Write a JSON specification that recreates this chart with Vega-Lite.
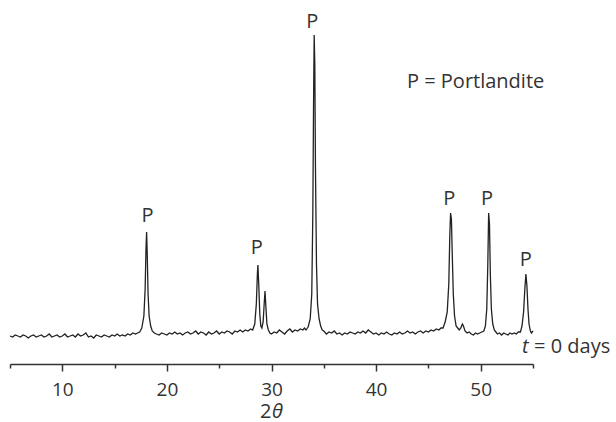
{
  "$schema": "https://vega.github.io/schema/vega-lite/v6.json",
  "width": 523,
  "height": 344,
  "autosize": "none",
  "padding": {"left": 10, "top": 20, "right": 83, "bottom": 58},
  "background": "white",
  "config": {"view": {"stroke": null}, "text": {"font": "Open Sans", "fontSize": 20, "color": "#333333"}},
  "resolve": {"scale": {"x": "independent"}, "axis": {"x": "independent"}},
  "encoding": {
    "y": {"field": "y", "type": "quantitative", "scale": {"domain": [0, 344], "nice": false, "zero": false}, "axis": null}
  },
  "layer": [
    {
      "data": {"values": [
        {"x":5.0,"y":28},{"x":5.25,"y":27},{"x":5.5,"y":29},{"x":5.75,"y":28},{"x":6.0,"y":27},{"x":6.25,"y":29},{"x":6.5,"y":28},{"x":6.75,"y":26},{"x":7.0,"y":28},{"x":7.25,"y":29},{"x":7.5,"y":27},{"x":7.75,"y":28},{"x":8.0,"y":29},{"x":8.25,"y":27},{"x":8.5,"y":28},{"x":8.75,"y":30},{"x":9.0,"y":27},{"x":9.25,"y":28},{"x":9.5,"y":29},{"x":9.75,"y":27},{"x":10.0,"y":28},{"x":10.25,"y":30},{"x":10.5,"y":27},{"x":10.75,"y":28},{"x":11.0,"y":29},{"x":11.25,"y":27},{"x":11.5,"y":30},{"x":11.75,"y":28},{"x":12.0,"y":29},{"x":12.25,"y":31},{"x":12.5,"y":27},{"x":12.75,"y":28},{"x":13.0,"y":26},{"x":13.25,"y":29},{"x":13.5,"y":28},{"x":13.75,"y":27},{"x":14.0,"y":29},{"x":14.25,"y":28},{"x":14.5,"y":27},{"x":14.75,"y":29},{"x":15.0,"y":28},{"x":15.25,"y":30},{"x":15.5,"y":28},{"x":15.75,"y":29},{"x":16.0,"y":28},{"x":16.25,"y":30},{"x":16.5,"y":29},{"x":16.75,"y":31},{"x":17.0,"y":30},{"x":17.2,"y":31},
        {"x":17.4,"y":32},{"x":17.6,"y":36},{"x":17.8,"y":48},{"x":17.92,"y":75},{"x":18.0,"y":115},{"x":18.06,"y":132},{"x":18.12,"y":110},{"x":18.2,"y":70},{"x":18.3,"y":48},{"x":18.45,"y":38},{"x":18.6,"y":33},{"x":18.8,"y":31},
        {"x":19.0,"y":30},{"x":19.25,"y":29},{"x":19.5,"y":31},{"x":19.75,"y":30},{"x":20.0,"y":29},{"x":20.25,"y":31},{"x":20.5,"y":30},{"x":20.75,"y":32},{"x":21.0,"y":30},{"x":21.25,"y":31},{"x":21.5,"y":29},{"x":21.75,"y":31},{"x":22.0,"y":32},{"x":22.25,"y":30},{"x":22.5,"y":31},{"x":22.75,"y":33},{"x":23.0,"y":30},{"x":23.25,"y":32},{"x":23.5,"y":31},{"x":23.75,"y":29},{"x":24.0,"y":32},{"x":24.25,"y":30},{"x":24.5,"y":31},{"x":24.75,"y":33},{"x":25.0,"y":30},{"x":25.25,"y":32},{"x":25.5,"y":31},{"x":25.75,"y":33},{"x":26.0,"y":32},{"x":26.25,"y":30},{"x":26.5,"y":33},{"x":26.75,"y":32},{"x":27.0,"y":34},{"x":27.25,"y":32},{"x":27.5,"y":34},{"x":27.75,"y":33},{"x":28.0,"y":35},
        {"x":28.2,"y":34},{"x":28.4,"y":40},{"x":28.55,"y":60},{"x":28.65,"y":90},{"x":28.7,"y":99},{"x":28.78,"y":80},{"x":28.88,"y":50},{"x":28.98,"y":38},{"x":29.08,"y":36},{"x":29.2,"y":42},{"x":29.3,"y":60},{"x":29.38,"y":73},{"x":29.46,"y":58},{"x":29.56,"y":40},{"x":29.7,"y":34},{"x":29.85,"y":31},
        {"x":30.0,"y":30},{"x":30.25,"y":32},{"x":30.5,"y":31},{"x":30.75,"y":34},{"x":31.0,"y":32},{"x":31.25,"y":30},{"x":31.5,"y":33},{"x":31.75,"y":35},{"x":32.0,"y":32},{"x":32.25,"y":34},{"x":32.5,"y":33},{"x":32.75,"y":35},{"x":33.0,"y":34},{"x":33.15,"y":36},
        {"x":33.3,"y":34},{"x":33.5,"y":37},{"x":33.7,"y":45},{"x":33.85,"y":70},{"x":33.95,"y":150},{"x":34.02,"y":260},{"x":34.08,"y":329},{"x":34.14,"y":300},{"x":34.2,"y":200},{"x":34.3,"y":100},{"x":34.4,"y":60},{"x":34.55,"y":45},{"x":34.7,"y":38},{"x":34.85,"y":34},
        {"x":35.0,"y":33},{"x":35.25,"y":30},{"x":35.5,"y":32},{"x":35.75,"y":31},{"x":36.0,"y":33},{"x":36.25,"y":30},{"x":36.5,"y":31},{"x":36.75,"y":29},{"x":37.0,"y":31},{"x":37.25,"y":30},{"x":37.5,"y":32},{"x":37.75,"y":31},{"x":38.0,"y":30},{"x":38.25,"y":32},{"x":38.5,"y":31},{"x":38.75,"y":33},{"x":39.0,"y":31},{"x":39.25,"y":34},{"x":39.5,"y":32},{"x":39.75,"y":30},{"x":40.0,"y":31},{"x":40.25,"y":29},{"x":40.5,"y":31},{"x":40.75,"y":30},{"x":41.0,"y":32},{"x":41.25,"y":30},{"x":41.5,"y":29},{"x":41.75,"y":31},{"x":42.0,"y":30},{"x":42.25,"y":32},{"x":42.5,"y":30},{"x":42.75,"y":31},{"x":43.0,"y":33},{"x":43.25,"y":31},{"x":43.5,"y":32},{"x":43.75,"y":30},{"x":44.0,"y":32},{"x":44.25,"y":33},{"x":44.5,"y":31},{"x":44.75,"y":33},{"x":45.0,"y":32},{"x":45.25,"y":34},{"x":45.5,"y":33},{"x":45.75,"y":35},{"x":46.0,"y":34},{"x":46.2,"y":36},
        {"x":46.4,"y":36},{"x":46.6,"y":42},{"x":46.8,"y":52},{"x":46.95,"y":80},{"x":47.05,"y":130},{"x":47.12,"y":151},{"x":47.2,"y":145},{"x":47.28,"y":110},{"x":47.38,"y":70},{"x":47.5,"y":48},{"x":47.65,"y":38},{"x":47.8,"y":36},
        {"x":47.95,"y":34},{"x":48.1,"y":36},{"x":48.25,"y":40},{"x":48.35,"y":38},{"x":48.5,"y":33},{"x":48.7,"y":31},{"x":48.9,"y":32},{"x":49.1,"y":30},{"x":49.3,"y":29},{"x":49.5,"y":31},{"x":49.7,"y":30},{"x":49.9,"y":31},{"x":50.1,"y":32},
        {"x":50.3,"y":33},{"x":50.45,"y":38},{"x":50.58,"y":55},{"x":50.68,"y":100},{"x":50.76,"y":151},{"x":50.84,"y":140},{"x":50.92,"y":90},{"x":51.02,"y":55},{"x":51.15,"y":40},{"x":51.3,"y":34},
        {"x":51.45,"y":32},{"x":51.6,"y":30},{"x":51.8,"y":31},{"x":52.0,"y":29},{"x":52.2,"y":31},{"x":52.4,"y":30},{"x":52.6,"y":29},{"x":52.8,"y":31},{"x":53.0,"y":30},{"x":53.2,"y":31},{"x":53.4,"y":30},{"x":53.6,"y":32},
        {"x":53.8,"y":32},{"x":53.95,"y":38},{"x":54.1,"y":52},{"x":54.22,"y":75},{"x":54.32,"y":90},{"x":54.42,"y":78},{"x":54.52,"y":55},{"x":54.62,"y":40},{"x":54.75,"y":33},{"x":54.85,"y":31},{"x":55.0,"y":33}
      ]},
      "mark": {"type": "line", "color": "#222222", "strokeWidth": 1.3},
      "encoding": {
        "x": {"field": "x", "type": "quantitative", "scale": {"domain": [5, 55], "nice": false, "zero": false},
          "axis": {"orient": "bottom", "values": [10, 20, 30, 40, 50], "title": null, "grid": false,
            "domainColor": "#333333", "domainWidth": 1.5, "tickColor": "#333333", "tickWidth": 1.5, "tickSize": 7,
            "labelFont": "Open Sans", "labelFontSize": 19, "labelColor": "#333333", "labelPadding": 9}}
      }
    },
    {
      "data": {"values": [
        {"x": 18.15, "y": 148, "label": "P"},
        {"x": 28.6, "y": 116, "label": "P"},
        {"x": 33.9, "y": 342, "label": "P"},
        {"x": 47.0, "y": 165, "label": "P"},
        {"x": 50.6, "y": 165, "label": "P"},
        {"x": 54.3, "y": 104, "label": "P"}
      ]},
      "mark": {"type": "text", "align": "center", "baseline": "middle"},
      "encoding": {
        "x": {"field": "x", "type": "quantitative", "scale": {"domain": [5, 55], "nice": false, "zero": false}, "axis": null},
        "text": {"field": "label"}
      }
    },
    {
      "data": {"values": [
        {"x": 42.95, "y": 282, "label": "P = Portlandite"},
        {"x": 55.1, "y": 17, "label": "= 0 days"}
      ]},
      "mark": {"type": "text", "align": "left", "baseline": "middle"},
      "encoding": {
        "x": {"field": "x", "type": "quantitative", "scale": {"domain": [5, 55], "nice": false, "zero": false}, "axis": null},
        "text": {"field": "label"}
      }
    },
    {
      "data": {"values": [
        {"x": 53.95, "y": 17, "label": "t"},
        {"x": 30.05, "y": -48, "label": "θ"}
      ]},
      "mark": {"type": "text", "align": "left", "baseline": "middle", "fontStyle": "italic"},
      "encoding": {
        "x": {"field": "x", "type": "quantitative", "scale": {"domain": [5, 55], "nice": false, "zero": false}, "axis": null},
        "text": {"field": "label"}
      }
    },
    {
      "data": {"values": [
        {"x": 30.0, "y": -48, "label": "2"}
      ]},
      "mark": {"type": "text", "align": "right", "baseline": "middle"},
      "encoding": {
        "x": {"field": "x", "type": "quantitative", "scale": {"domain": [5, 55], "nice": false, "zero": false},
          "axis": {"orient": "bottom", "values": [5, 15, 25, 35, 45, 55], "title": null, "grid": false, "labels": false, "domain": false,
            "tickColor": "#333333", "tickWidth": 1.5, "tickSize": 4}},
        "text": {"field": "label"}
      }
    }
  ]
}
